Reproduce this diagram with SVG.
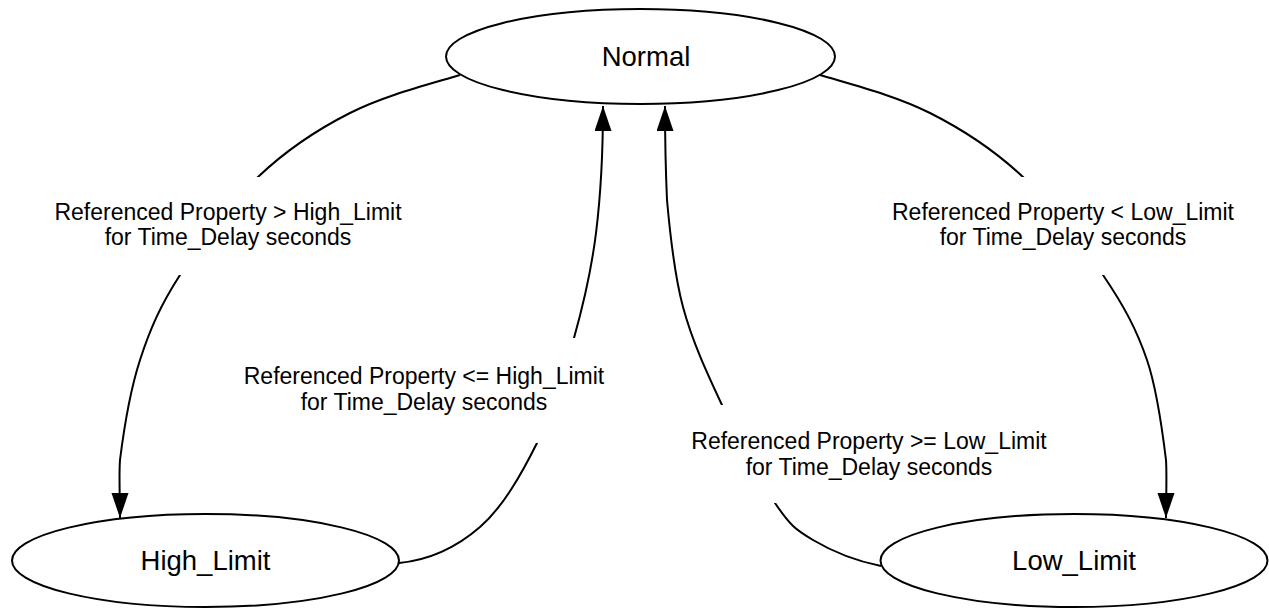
<svg xmlns="http://www.w3.org/2000/svg" width="1269" height="609" viewBox="0 0 1269 609">
<style>
  .node { fill: #ffffff; stroke: #000000; stroke-width: 2; }
  .ntext { font-family: "Liberation Sans", Arial, sans-serif; font-size: 27.5px; fill: #000000; text-anchor: middle; }
  .edge { fill: none; stroke: #000000; stroke-width: 2; marker-end: url(#arrow); }
  .ltext { font-family: "Liberation Sans", Arial, sans-serif; font-size: 23px; fill: #000000; text-anchor: middle; }
</style>
<defs>
  <marker id="arrow" markerUnits="userSpaceOnUse" markerWidth="26" markerHeight="18" refX="25" refY="8.5" orient="auto">
    <path d="M0,0 L25,8.5 L0,17 z" fill="#000000"/>
  </marker>
  <mask id="labelgaps" maskUnits="userSpaceOnUse" x="0" y="0" width="1269" height="609">
    <rect x="0" y="0" width="1269" height="609" fill="#ffffff"/>
    <rect x="45" y="177" width="365" height="98" fill="#000000"/>
    <rect x="880" y="177" width="365" height="98" fill="#000000"/>
    <rect x="238" y="338" width="374" height="105" fill="#000000"/>
    <rect x="686" y="405" width="366" height="98" fill="#000000"/>
  </mask>
</defs>
<rect x="0" y="0" width="1269" height="609" fill="#ffffff"/>
<g id="connectors" mask="url(#labelgaps)">
  <path id="e-normal-high" class="edge" d="M460,75 C423,86 383.7,96 350,113 C316.3,130 286.3,150 258,177 C229.7,204 199.7,244.5 180,275 C160.3,305.5 150,329.2 140,360 C130,390.8 123.3,433.7 120,460 C118.8,475 120,495 120,518"/>
  <path id="e-high-normal" class="edge" d="M399,563 C430,560 457,547 480,527 C503,507 521.3,474.5 537,443 C552.7,411.5 564.2,373 574,338 C583.8,303 591.2,271.7 596,233 C600.8,194.3 603,140 603,106"/>
  <path id="e-low-normal" class="edge" d="M881,566 C856,561 830.7,550.5 813,540 C795.3,529.5 790.2,525.5 775,503 C759.8,480.5 737.3,437.7 722,405 C706.7,372.3 692.2,341.2 683,307 C673.8,272.8 670,233.5 667,200 C665.5,166.5 665,140 665,106"/>
  <path id="e-normal-low" class="edge" d="M820,75 C857,86 896.2,96 930,113 C963.8,130 994.2,150 1023,177 C1051.8,204 1082.3,244.5 1103,275 C1123.7,305.5 1136.5,329.2 1147,360 C1157.5,390.8 1162.8,433.7 1166,460 C1167,475 1166,500 1166,518"/>
</g>
<g id="labels">
  <text class="ltext"><tspan x="228" y="219.5">Referenced Property &gt; High_Limit</tspan><tspan x="228" y="245">for Time_Delay seconds</tspan></text>
  <text class="ltext"><tspan x="1063" y="219.5">Referenced Property &lt; Low_Limit</tspan><tspan x="1063" y="245">for Time_Delay seconds</tspan></text>
  <text class="ltext"><tspan x="424" y="384">Referenced Property &lt;= High_Limit</tspan><tspan x="424" y="409.5">for Time_Delay seconds</tspan></text>
  <text class="ltext"><tspan x="869" y="449">Referenced Property &gt;= Low_Limit</tspan><tspan x="869" y="474.5">for Time_Delay seconds</tspan></text>
</g>
<g id="node-normal">
  <ellipse class="node" cx="640.5" cy="56.5" rx="194.5" ry="47.5"/>
  <text class="ntext" x="646" y="65.5">Normal</text>
</g>
<g id="node-high-limit">
  <ellipse class="node" cx="205.5" cy="560.5" rx="193.5" ry="46.5"/>
  <text class="ntext" x="205.5" y="570">High_Limit</text>
</g>
<g id="node-low-limit">
  <ellipse class="node" cx="1074" cy="560.5" rx="193.5" ry="46.5"/>
  <text class="ntext" x="1074" y="570">Low_Limit</text>
</g>
</svg>
